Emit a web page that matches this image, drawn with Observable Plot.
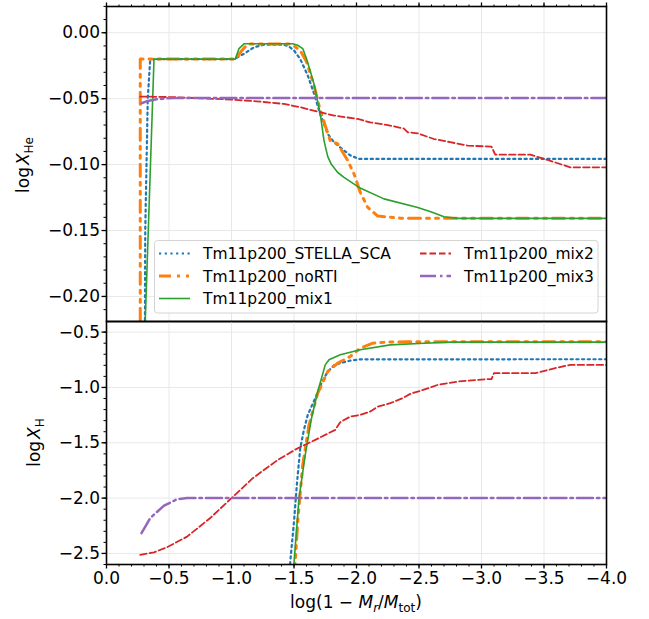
<!DOCTYPE html>
<html><head><meta charset="utf-8">
<script src="https://cdn.jsdelivr.net/npm/d3@7"></script>
<script src="https://cdn.jsdelivr.net/npm/@observablehq/plot@0.6"></script>
<style>
body{margin:0;background:#fff;}
#wrap{position:relative;width:649px;height:619px;font-family:"DejaVu Sans",sans-serif;}
#wrap > svg{position:absolute;left:0;overflow:visible;}
</style></head><body><div id="wrap"></div>
<script>
// ---- tick values ----
const xMajor = [0, -0.5, -1, -1.5, -2, -2.5, -3, -3.5, -4];
const xMinor = d3.range(0, 41).map(i => -i / 10);
const heMajor = [0, -0.05, -0.10, -0.15, -0.20];
const heMinor = d3.range(0, 22).map(i => -0.21 + i * 0.01).concat([0.01, 0.02]);
const hMajor = [-0.5, -1.0, -1.5, -2.0, -2.5];
const hMinor = d3.range(0, 22).map(i => -2.6 + i * 0.1);

// ---- series names / colours ----
const seriesNames = ["Tm11p200_STELLA_SCA", "Tm11p200_noRTI", "Tm11p200_mix1", "Tm11p200_mix2", "Tm11p200_mix3"];
const seriesColors = ["#1f77b4", "#ff7f0e", "#2ca02c", "#d62728", "#9467bd"];

// ---- top panel: log X_He vs log(1 - Mr/Mtot) ----
const heStella = [[-0.305,-0.30],[-0.31,-0.15],[-0.33,-0.05],[-0.35,-0.02],[-1.02,-0.02],[-1.10,-0.016],[-1.18,-0.011],[-1.26,-0.0091],[-1.42,-0.0091],[-1.46,-0.0105],[-1.50,-0.0134],[-1.55,-0.020],[-1.61,-0.0324],[-1.66,-0.046],[-1.71,-0.062],[-1.77,-0.0767],[-1.82,-0.083],[-1.87,-0.087],[-1.95,-0.093],[-2.02,-0.0957],[-4.0,-0.0957]];
const heNoRTI = [[-0.27,-0.30],[-0.27,-0.02],[-1.03,-0.02],[-1.07,-0.015],[-1.12,-0.0095],[-1.15,-0.0085],[-1.46,-0.0085],[-1.50,-0.010],[-1.55,-0.0135],[-1.60,-0.022],[-1.66,-0.040],[-1.71,-0.059],[-1.79,-0.082],[-1.85,-0.0843],[-1.93,-0.097],[-1.98,-0.107],[-2.03,-0.121],[-2.09,-0.1325],[-2.17,-0.139],[-2.35,-0.1406],[-4.0,-0.1406]];
const heMix1 = [[-0.306,-0.23],[-0.38,-0.02],[-1.03,-0.02],[-1.06,-0.012],[-1.10,-0.0084],[-1.49,-0.0084],[-1.53,-0.0095],[-1.57,-0.012],[-1.60,-0.0198],[-1.63,-0.029],[-1.66,-0.0388],[-1.71,-0.0616],[-1.74,-0.0818],[-1.77,-0.094],[-1.80,-0.100],[-1.85,-0.106],[-1.90,-0.1097],[-2.02,-0.1173],[-2.22,-0.126],[-2.49,-0.1325],[-2.60,-0.136],[-2.70,-0.1396],[-2.81,-0.1408],[-4.0,-0.1408]];
const heMix2 = [[-0.27,-0.0484],[-0.40,-0.0486],[-0.55,-0.0489],[-0.75,-0.0497],[-1.0,-0.0507],[-1.2,-0.052],[-1.42,-0.054],[-1.55,-0.0565],[-1.71,-0.0603],[-1.82,-0.0628],[-2.01,-0.0654],[-2.11,-0.068],[-2.25,-0.070],[-2.38,-0.0727],[-2.41,-0.0755],[-2.49,-0.0763],[-2.62,-0.0806],[-2.75,-0.083],[-2.89,-0.0856],[-3.08,-0.0864],[-3.11,-0.0925],[-3.39,-0.0925],[-3.53,-0.0965],[-3.71,-0.1021],[-4.0,-0.1021]];
const heMix3 = [[-0.28,-0.0535],[-0.32,-0.0520],[-0.40,-0.0505],[-0.49,-0.0497],[-0.60,-0.0494],[-4.0,-0.0494]];

// ---- bottom panel: log X_H vs log(1 - Mr/Mtot) ----
const hStella = [[-1.465,-2.70],[-1.47,-2.574],[-1.50,-2.212],[-1.525,-1.85],[-1.55,-1.549],[-1.58,-1.38],[-1.61,-1.248],[-1.67,-1.097],[-1.72,-0.96],[-1.77,-0.856],[-1.82,-0.80],[-1.87,-0.78],[-1.95,-0.757],[-2.03,-0.746],[-4.0,-0.745]];
const hNoRTI = [[-1.505,-2.70],[-1.51,-2.574],[-1.53,-2.212],[-1.55,-1.95],[-1.57,-1.70],[-1.62,-1.338],[-1.69,-1.052],[-1.77,-0.856],[-1.85,-0.78],[-1.90,-0.75],[-1.95,-0.72],[-2.03,-0.645],[-2.13,-0.60],[-2.25,-0.59],[-2.40,-0.588],[-4.0,-0.588]];
const hMix1 = [[-1.495,-2.70],[-1.50,-2.589],[-1.54,-2.0],[-1.59,-1.609],[-1.64,-1.278],[-1.69,-1.037],[-1.75,-0.796],[-1.78,-0.75],[-1.87,-0.705],[-2.03,-0.66],[-2.27,-0.615],[-2.54,-0.60],[-2.75,-0.59],[-4.0,-0.59]];
const hMix2 = [[-0.27,-2.513],[-0.38,-2.49],[-0.485,-2.444],[-0.645,-2.348],[-0.83,-2.18],[-1.0,-2.0],[-1.17,-1.82],[-1.37,-1.655],[-1.53,-1.549],[-1.67,-1.474],[-1.83,-1.383],[-1.87,-1.314],[-1.95,-1.263],[-2.03,-1.248],[-2.11,-1.218],[-2.17,-1.173],[-2.27,-1.142],[-2.37,-1.097],[-2.43,-1.058],[-2.51,-1.031],[-2.65,-0.977],[-2.81,-0.947],[-3.05,-0.925],[-3.08,-0.925],[-3.10,-0.871],[-3.43,-0.871],[-3.59,-0.825],[-3.71,-0.796],[-4.0,-0.796]];
const hMix3 = [[-0.28,-2.317],[-0.35,-2.18],[-0.46,-2.068],[-0.565,-2.01],[-0.645,-2.0],[-4.0,-2.0]];

// ---- line styles (matplotlib-like) ----
const styles = [
  {stroke: seriesColors[0], strokeWidth: 2.2, strokeDasharray: "2.2,3.5"},
  {stroke: seriesColors[1], strokeWidth: 3, strokeDasharray: "12,6,3,6,3,6"},
  {stroke: seriesColors[2], strokeWidth: 1.6},
  {stroke: seriesColors[3], strokeWidth: 1.8, strokeDasharray: "6.5,3"},
  {stroke: seriesColors[4], strokeWidth: 2.5, strokeDasharray: "16,4,2.5,4"}
];

const minus = s => s.replace("-", "\u2212");
const fmtHe = v => Math.abs(v) < 1e-9 ? "0.00" : minus(v.toFixed(2));
const fmt1 = v => Math.abs(v) < 1e-9 ? "0.0" : minus(v.toFixed(1));
const blank = () => "";
const font = {fontFamily: "DejaVu Sans", fontSize: "17px", color: "black", background: "transparent", overflow: "visible"};

function lines(sets) {
  return sets.map((data, i) => Plot.line(data, {x: d => d[0], y: d => d[1], ...styles[i], clip: true, strokeLinejoin: "round"}));
}

const topPlot = Plot.plot({
  width: 649, height: 321, marginLeft: 106, marginRight: 43, marginTop: 6, marginBottom: 0,
  style: font,
  x: {domain: [0, -4]},
  y: {domain: [-0.219, 0.0199]},
  marks: [
    Plot.gridX(xMajor, {stroke: "#e8e8e8", strokeOpacity: 1}),
    Plot.gridY(heMajor, {stroke: "#e8e8e8", strokeOpacity: 1}),
    ...lines([heStella, heNoRTI, heMix1, heMix2, heMix3]),
    Plot.frame({stroke: "black", strokeWidth: 1.6}),
    Plot.axisX(xMinor, {anchor: "top", tickSize: 2.5, tickFormat: blank, label: null, strokeWidth: 1}),
    Plot.axisX(xMajor, {anchor: "top", tickSize: 4.5, tickFormat: blank, label: null, strokeWidth: 1.3}),
    Plot.axisY(heMinor.filter(v => v >= -0.219 && v <= 0.02), {anchor: "left", tickSize: 2.5, tickFormat: blank, label: null, strokeWidth: 1}),
    Plot.axisY(heMajor, {anchor: "left", tickSize: 4.5, tickPadding: 2, tickFormat: fmtHe, label: null, strokeWidth: 1.3})
  ]
});

const botPlot = Plot.plot({
  width: 649, height: 298, marginLeft: 106, marginRight: 43, marginTop: 0, marginBottom: 55,
  style: font,
  x: {domain: [0, -4]},
  y: {domain: [-2.6, -0.404]},
  marks: [
    Plot.gridX(xMajor, {stroke: "#e8e8e8", strokeOpacity: 1}),
    Plot.gridY(hMajor, {stroke: "#e8e8e8", strokeOpacity: 1}),
    ...lines([hStella, hNoRTI, hMix1, hMix2, hMix3]),
    Plot.frame({stroke: "black", strokeWidth: 1.6}),
    Plot.axisX(xMinor, {anchor: "bottom", tickSize: 2.5, tickFormat: blank, label: null, strokeWidth: 1}),
    Plot.axisX(xMajor, {anchor: "bottom", tickSize: 4.5, tickPadding: 2.5, tickFormat: fmt1, label: null, strokeWidth: 1.3}),
    Plot.axisY(hMinor.filter(v => v >= -2.6 && v <= -0.404), {anchor: "left", tickSize: 2.5, tickFormat: blank, label: null, strokeWidth: 1}),
    Plot.axisY(hMajor, {anchor: "left", tickSize: 4.5, tickPadding: 2, tickFormat: fmt1, label: null, strokeWidth: 1.3})
  ]
});

const wrap = document.getElementById("wrap");
topPlot.style.top = "0px";
botPlot.style.top = "321px";
wrap.appendChild(topPlot);
wrap.appendChild(botPlot);

// ---- axis labels (mathtext-like) ----
function yLabel(svg, x, y, sub) {
  const t = d3.select(svg).append("text")
    .attr("transform", `translate(${x},${y}) rotate(-90)`)
    .attr("text-anchor", "middle").attr("font-size", 17).attr("fill", "black");
  t.append("tspan").text("log");
  t.append("tspan").attr("dx", 2).attr("font-style", "italic").text("X");
  t.append("tspan").attr("dy", 4).attr("font-size", 12).text(sub);
}
yLabel(topPlot, 29, 165, "He");
yLabel(botPlot, 40, 121.5, "H");

{
  const t = d3.select(botPlot).append("text")
    .attr("x", 356).attr("y", 287).attr("text-anchor", "middle")
    .attr("font-size", 17).attr("fill", "black");
  t.append("tspan").text("log(1 \u2212 ");
  t.append("tspan").attr("font-style", "italic").text("M");
  t.append("tspan").attr("font-style", "italic").attr("font-size", 12).attr("dy", 4).text("r");
  t.append("tspan").attr("dy", -4).text("/");
  t.append("tspan").attr("font-style", "italic").text("M");
  t.append("tspan").attr("font-size", 12).attr("dy", 4).text("tot");
  t.append("tspan").attr("dy", -4).text(")");
}

// ---- legend ----
const leg = d3.select(wrap).append("svg")
  .attr("width", 649).attr("height", 619).style("top", "0px").style("pointer-events", "none");
leg.append("rect").attr("x", 154.5).attr("y", 240.5).attr("width", 443.5).attr("height", 72.5)
  .attr("rx", 3).attr("fill", "white").attr("fill-opacity", 0.8).attr("stroke", "#d4d4d4").attr("stroke-width", 1);
const legPos = [
  {x: 159, y: 253.5}, {x: 159, y: 276}, {x: 159, y: 298.5},
  {x: 420, y: 253.5}, {x: 420, y: 276}
];
seriesNames.forEach((name, i) => {
  const p = legPos[i], s = styles[i];
  leg.append("line").attr("x1", p.x).attr("x2", p.x + 31).attr("y1", p.y).attr("y2", p.y)
    .attr("stroke", s.stroke).attr("stroke-width", s.strokeWidth)
    .attr("stroke-dasharray", s.strokeDasharray || null);
  leg.append("text").attr("x", p.x + 44).attr("y", p.y).attr("dy", "0.36em")
    .attr("font-size", 15.5).attr("fill", "black").text(name);
});
</script>
</body></html>
